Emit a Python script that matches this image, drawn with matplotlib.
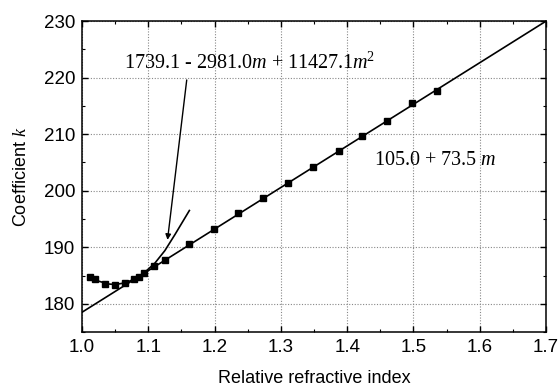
import matplotlib
matplotlib.use("Agg")
import matplotlib.pyplot as plt
from matplotlib.ticker import MultipleLocator

# Data
m_data = [1.012, 1.020, 1.035, 1.050, 1.065, 1.079, 1.086, 1.094, 1.109, 1.125,
          1.162, 1.199, 1.236, 1.273, 1.311, 1.348, 1.387, 1.423, 1.460, 1.498, 1.535]
k_data = [184.8, 184.4, 183.5, 183.4, 183.6, 184.4, 184.8, 185.4, 186.7, 187.8,
          190.5, 193.3, 196.0, 198.7, 201.4, 204.2, 207.1, 209.6, 212.4, 215.5, 217.7]

# Linear fit line (105.0 + 73.5 m) endpoints
lin_m = [1.0, 1.7]
lin_k = [178.5, 230.0]

# Quadratic fit curve
quad_m = [1.012, 1.025, 1.040, 1.050, 1.065, 1.080, 1.095, 1.110, 1.125, 1.140, 1.162]
quad_k = [184.8, 184.0, 183.5, 183.4, 183.7, 184.4, 185.6, 187.2, 189.4, 192.2, 196.5]

x_ticks = [1.0, 1.1, 1.2, 1.3, 1.4, 1.5, 1.6, 1.7]
y_ticks = [180, 190, 200, 210, 220, 230]

plt.rcParams['mathtext.fontset'] = 'custom'
plt.rcParams['mathtext.rm'] = 'Liberation Serif'
plt.rcParams['mathtext.it'] = 'Liberation Serif:italic'

fig = plt.figure(figsize=(5.59, 3.92), dpi=100)
ax = fig.add_axes([0.1467, 0.153, 0.83, 0.793])

ax.plot(lin_m, lin_k, color='black', lw=1.2, zorder=3)
ax.plot(quad_m, quad_k, color='black', lw=1.2, zorder=3)
ax.plot(m_data, k_data, linestyle='none', marker='s', ms=4.3, color='black', zorder=4)

ax.set_xlim(1.0, 1.7)
ax.set_ylim(175, 230)
ax.set_xticks(x_ticks)
ax.set_xticklabels([f"{t:.1f}" for t in x_ticks])
ax.set_yticks(y_ticks)
ax.xaxis.set_minor_locator(MultipleLocator(0.05))
ax.yaxis.set_minor_locator(MultipleLocator(5))
ax.tick_params(which='both', direction='in', top=True, right=True, color='black')
ax.tick_params(which='major', length=4, width=1)
ax.tick_params(which='minor', length=2.5, width=0.8)
ax.tick_params(axis='both', which='major', labelsize=13.5, pad=5)
for lab in ax.get_xticklabels() + ax.get_yticklabels():
    lab.set_family('Liberation Sans')
ax.grid(True, which='major', linestyle=(0, (1, 1.5)), color='#888888', lw=0.8)
for s in ax.spines.values():
    s.set_linewidth(1.1)

ax.set_xlabel('Relative refractive index', family='Liberation Sans', fontsize=13, labelpad=10)
ax.set_ylabel(r'Coefficient $k$', family='Liberation Sans', fontsize=13, labelpad=10)

ax.text(1.064, 222.5, r'1739.1 - 2981.0$m$ + 11427.1$m^{\!2}$', family='Liberation Serif',
        fontsize=14.5, va='center', ha='left')
ax.text(1.440, 205.4, r'105.0 + 73.5 $m$', family='Liberation Serif',
        fontsize=14.5, va='center', ha='left')

ax.annotate('', xy=(1.129, 191.3), xytext=(1.158, 219.6),
            arrowprops=dict(arrowstyle='-|>', color='black', lw=1.0,
                            mutation_scale=8, shrinkA=0, shrinkB=0))

fig.savefig('out.png', dpi=100)
